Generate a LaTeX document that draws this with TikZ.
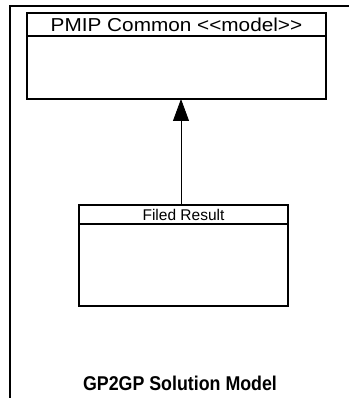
\documentclass[tikz,border=0pt]{standalone}
\usepackage{fontspec}
\setmainfont{Liberation Sans}
\usetikzlibrary{arrows.meta}
\begin{document}
\begin{tikzpicture}[x=1pt,y=-1pt,
  box/.style={draw, line width=1.5pt, inner sep=0pt, outer sep=0pt, anchor=north west},
  conn/.style={line width=0.8pt, -{Triangle[length=22pt,width=16pt]}}]
\useasboundingbox (0,0) rectangle (349,398);
\draw[line width=2pt] (10,398) -- (10,6) -- (349,6);
\node[box, minimum width=299pt, minimum height=23pt] (pmiph) at (27,13)
  {\fontsize{18.7}{20}\selectfont\scalebox{1.11}[1]{PMIP Common <{}<model>{}>}};
\node[box, minimum width=299pt, minimum height=63pt] (pmipb) at (27,36) {};
\node[box, minimum width=209pt, minimum height=19pt] (filedh) at (79,205)
  {\fontsize{15.5}{17}\selectfont Filed Result};
\node[box, minimum width=209pt, minimum height=82pt] (filedb) at (79,224) {};
\coordinate (ax) at (181,0);
\draw[conn] (ax |- filedh.north) -- (ax |- pmipb.south);
\node (title) at (180,383) {\fontsize{17.8}{20}\selectfont\bfseries\scalebox{1}[1.12]{GP2GP Solution Model}};
\end{tikzpicture}
\end{document}
